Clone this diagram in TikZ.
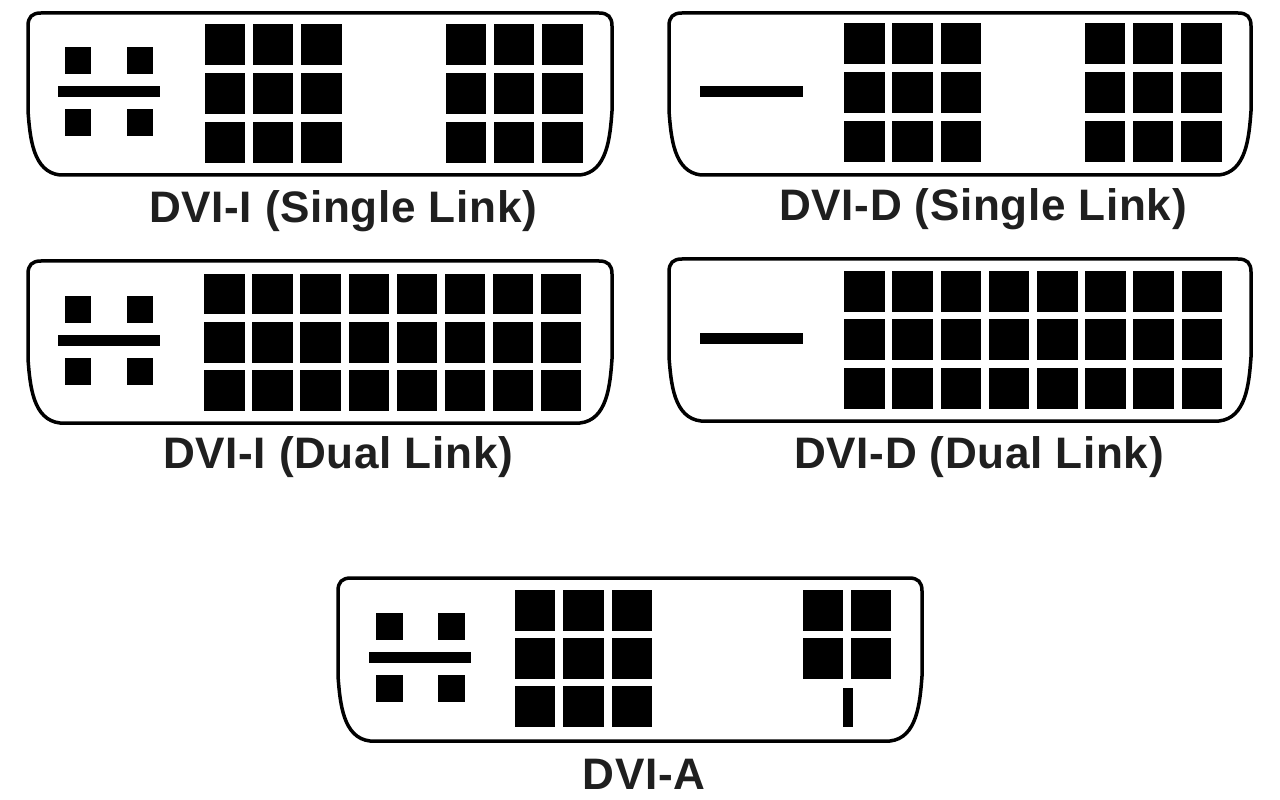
\documentclass[tikz,border=0pt]{standalone}
\usepackage{fontspec}
\setmainfont{Liberation Sans}
\newfontfamily\labelfont[LetterSpace=1.5]{Liberation Sans}
\usetikzlibrary{positioning, calc}

% connector outline: left, top, right, bottom
\newcommand{\shell}[5]{
  \draw[shellline] (#2,#3+13) .. controls (#2,#3+4) and (#2+4,#3) .. (#2+13,#3)
    -- (#4-13,#3) .. controls (#4-4,#3) and (#4,#3+4) .. (#4,#3+13)
    -- (#4,#3+98) .. controls (#4-2,#3+125) and (#4-5,#5-3) .. (#4-32,#5)
    -- (#2+32,#5) .. controls (#2+5,#5-3) and (#2+2,#3+125) .. (#2,#3+98)
    -- cycle;
  \coordinate (#1) at (#2,#3);
}
% ground cross on the left: name, bar centre x, bar centre y
\newcommand{\crosspins}[3]{
  \node[smallpin] (#1-a) at (#2-31,#3-31) {};
  \node[smallpin] (#1-b) at (#2+31,#3-31) {};
  \node[smallpin] (#1-c) at (#2-31,#3+31) {};
  \node[smallpin] (#1-d) at (#2+31,#3+31) {};
  \node[flatblade] (#1-e) at (#2,#3) {};
}

\begin{document}
\begin{tikzpicture}[x=0.02cm, y=-0.02cm,
  shellline/.style={draw=black, line width=0.07cm, fill=white},
  pin/.style={fill=black, minimum width=0.81cm, minimum height=0.82cm, inner sep=0pt},
  smallpin/.style={fill=black, minimum size=0.54cm, inner sep=0pt},
  flatblade/.style={fill=black, minimum width=2.06cm, minimum height=0.22cm, inner sep=0pt},
  title/.style={font=\labelfont\bfseries\fontsize{25.1pt}{29pt}\selectfont, text=black!88, inner sep=0pt}
]
  \useasboundingbox (0,0) rectangle (1280,800);
  \fill[white] (0,0) rectangle (1280,800);

  % DVI-I single
  \shell{isingle}{28}{13}{612}{175}
  \crosspins{isx}{109}{92}
  \foreach \r in {0,1,2} {
    \foreach \c in {0,1,2} {
      \node[pin] (isa\c\r) at (225+48.2*\c,45+48.6*\r) {};
      \node[pin] (isb\c\r) at (466+48.2*\c,45+48.6*\r) {};
    }
  }
  \node[title] (islabel) at (343,211) {DVI-I (Single Link)};

  % DVI-D single
  \shell{dsingle}{669}{13}{1251}{175}
  \node[flatblade] (dsbar) at (751,91.5) {};
  \foreach \r in {0,1,2} {
    \foreach \c in {0,1,2} {
      \node[pin] (dsa\c\r) at (864.5+48.2*\c,44+48.6*\r) {};
      \node[pin] (dsb\c\r) at (1105+48.2*\c,44+48.6*\r) {};
    }
  }
  \node[title] (dslabel) at (983,209) {DVI-D (Single Link)};

  % DVI-I dual
  \shell{idual}{28}{261}{612}{423}
  \crosspins{idx}{109}{340.5}
  \foreach \r in {0,1,2} {
    \foreach \c in {0,...,7} {
      \node[pin] (id\c\r) at (224.5+48.1*\c,294+48.3*\r) {};
    }
  }
  \node[title] (idlabel) at (338,457) {DVI-I (Dual Link)};

  % DVI-D dual
  \shell{ddual}{669}{259}{1251}{421}
  \node[flatblade] (ddbar) at (751,338.5) {};
  \foreach \r in {0,1,2} {
    \foreach \c in {0,...,7} {
      \node[pin] (dd\c\r) at (864.5+48.2*\c,291.5+48.3*\r) {};
    }
  }
  \node[title] (ddlabel) at (979,457) {DVI-D (Dual Link)};

  % DVI-A
  \shell{asingle}{338}{578}{922}{741}
  \crosspins{ax}{420}{657.5}
  \foreach \r in {0,1,2} {
    \foreach \c in {0,1,2} {
      \node[pin] (aa\c\r) at (535+48.4*\c,610.5+48.2*\r) {};
    }
  }
  \foreach \r in {0,1} {
    \foreach \c in {0,1} {
      \node[pin] (ab\c\r) at (823+48.2*\c,610.5+48.2*\r) {};
    }
  }
  \node[fill=black, minimum width=0.2cm, minimum height=0.78cm, inner sep=0pt] (aslot) at (848,707.5) {};
  \node[title] (alabel) at (644,774) {DVI-A};
\end{tikzpicture}
\end{document}
